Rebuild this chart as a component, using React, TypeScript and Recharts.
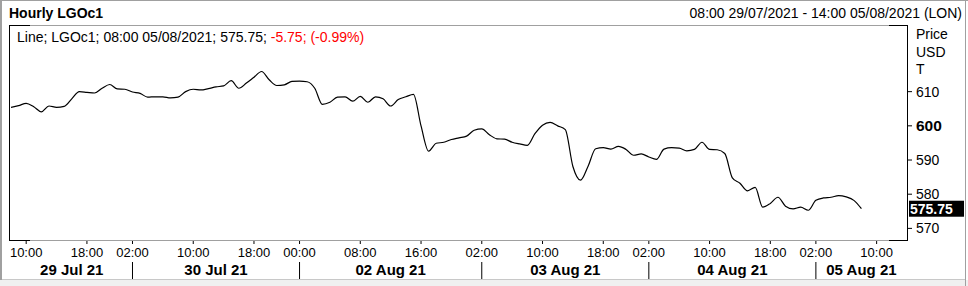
import React from 'react';
import { LineChart, Line, XAxis, YAxis } from 'recharts';

const prices: number[] = [
  605.4, 605.9, 606.6, 605.6, 604.1, 605.8, 605.4, 605.7, 607.9, 610.0,
  609.8, 609.6, 611.0, 612.1, 610.8, 610.7, 609.9, 609.5, 608.4, 608.5,
  608.5, 608.2, 608.4, 610.0, 610.7, 610.5, 610.9, 611.4, 611.7, 613.2,
  611.0, 612.5, 614.2, 615.9, 613.5, 611.8, 612.0, 613.0, 613.1, 612.9,
  611.0, 606.3, 606.9, 608.4, 608.5, 607.2, 608.6, 606.9, 608.5, 607.9,
  605.8, 607.7, 608.5, 609.2, 600.0, 592.6, 594.9, 595.2, 596.0, 596.5,
  597.0, 598.7, 599.1, 597.4, 596.2, 596.1, 595.2, 594.7, 594.3, 597.7,
  600.2, 601.0, 600.0, 598.9, 588.1, 584.1, 588.2, 593.3, 593.6, 593.2,
  594.0, 593.1, 591.4, 591.8, 590.9, 590.2, 593.2, 593.6, 593.5, 592.7,
  593.1, 595.2, 593.1, 593.0, 591.9, 584.8, 583.2, 581.0, 582.0, 576.2,
  577.3, 579.1, 576.5, 575.7, 576.2, 575.3, 578.2, 578.9, 579.1, 579.6,
  579.2, 578.2, 575.75,
];

const timeTicks: number[] = [2, 10, 16, 24, 32, 38, 46, 54, 62, 70, 78, 84, 92, 100, 106, 114];
const timeLabels: string[] = ['10:00', '18:00', '02:00', '10:00', '18:00', '00:00', '08:00', '16:00', '02:00', '10:00', '18:00', '02:00', '10:00', '18:00', '02:00', '10:00'];
const daySeparators: number[] = [16, 38, 62, 84, 106];
const dateCenters: number[] = [8, 27, 50, 73, 95, 112];
const dateLabels: string[] = ['29 Jul 21', '30 Jul 21', '02 Aug 21', '03 Aug 21', '04 Aug 21', '05 Aug 21'];
const priceTicks: number[] = [570, 575.75, 580, 590, 600, 610];
const boldTick = 600;
const lastPrice = 575.75;
const xDomain: [number, number] = [0, 118];
const yDomain: [number, number] = [566.6, 629.5];

const data = prices.map((p, i) => ({ t: i, price: p }));

const FONT = '"Liberation Sans", Arial, sans-serif';
const W = 968;
const H = 286;
const PLOT_TOP = 25;
const PLOT_BOTTOM = 240;
const PLOT_LEFT = 9;
const PLOT_RIGHT = 907;

const TimeTick = (props: any) => {
  const { x, payload } = props;
  const idx = timeTicks.indexOf(payload.value);
  const isSep = daySeparators.includes(payload.value);
  return (
    <g>
      <line x1={x} x2={x} y1={PLOT_BOTTOM + 1} y2={PLOT_BOTTOM + 4} stroke="#000" strokeWidth={1} />
      <text x={x} y={257} textAnchor="middle" fontSize={13} fontFamily={FONT} fill="#000">
        {timeLabels[idx]}
      </text>
      {isSep && <line x1={x} x2={x} y1={262} y2={279} stroke="#000" strokeWidth={1} />}
    </g>
  );
};

const DateTick = (props: any) => {
  const { x, payload } = props;
  const idx = dateCenters.indexOf(payload.value);
  return (
    <text x={x} y={274.5} textAnchor="middle" fontSize={15} fontWeight="bold" fontFamily={FONT} fill="#000">
      {dateLabels[idx]}
    </text>
  );
};

const PriceTick = (props: any) => {
  const { y, payload } = props;
  const v = payload.value;
  if (v === lastPrice) {
    return (
      <g>
        <rect x={909} y={y - 8} width={55} height={16} fill="#000" />
        <text x={910} y={y + 5} fontSize={14} fontWeight="bold" fontFamily={FONT} fill="#fff">
          {v.toFixed(2)}
        </text>
      </g>
    );
  }
  const bold = v === boldTick;
  return (
    <g>
      <line x1={PLOT_RIGHT} x2={PLOT_RIGHT + 5} y1={y} y2={y} stroke="#000" strokeWidth={1} />
      <text
        x={916}
        y={y}
        dy="0.36em"
        fontSize={bold ? 15.5 : 14}
        fontWeight={bold ? 'bold' : 'normal'}
        fontFamily={FONT}
        fill="#000"
      >
        {v}
      </text>
    </g>
  );
};

export default function App() {
  return (
    <div style={{ position: 'absolute', left: 0, top: 0, width: W, height: H, background: '#fff', overflow: 'hidden' }}>
      <LineChart
        width={W}
        height={H}
        data={data}
        margin={{ top: PLOT_TOP, right: 1, left: 11, bottom: 0 }}
      >
        <XAxis
          xAxisId="time"
          dataKey="t"
          type="number"
          domain={xDomain}
          allowDataOverflow
          ticks={timeTicks}
          interval={0}
          height={22}
          axisLine={false}
          tickLine={false}
          tick={<TimeTick />}
        />
        <XAxis
          xAxisId="date"
          dataKey="t"
          type="number"
          domain={xDomain}
          allowDataOverflow
          ticks={dateCenters}
          interval={0}
          height={24}
          axisLine={false}
          tickLine={false}
          tick={<DateTick />}
        />
        <YAxis
          orientation="right"
          type="number"
          domain={yDomain}
          allowDataOverflow
          ticks={priceTicks}
          interval={0}
          width={60}
          axisLine={false}
          tickLine={false}
          tick={<PriceTick />}
        />
        <Line
          xAxisId="time"
          type="monotone"
          dataKey="price"
          stroke="#000"
          strokeWidth={1.2}
          dot={false}
          activeDot={false}
          isAnimationActive={false}
        />
      </LineChart>
      <svg
        width={W}
        height={H}
        style={{ position: 'absolute', left: 0, top: 0, pointerEvents: 'none' }}
      >
        {/* outer frame */}
        <rect x={0} y={280} width={W} height={6} fill="#f0f0f0" />
        <line x1={1} x2={1} y1={0} y2={280} stroke="#a0a0a0" strokeWidth={2} />
        <line x1={965.5} x2={965.5} y1={0} y2={286} stroke="#a0a0a0" strokeWidth={1} />
        <line x1={0} x2={W} y1={0.5} y2={0.5} stroke="#a0a0a0" strokeWidth={1} />
        <line x1={2} x2={965} y1={279.5} y2={279.5} stroke="#c8c8c8" strokeWidth={1} />
        {/* plot box */}
        <line x1={PLOT_LEFT + 0.5} x2={PLOT_LEFT + 0.5} y1={PLOT_TOP} y2={PLOT_BOTTOM + 1} stroke="#000" />
        <line x1={PLOT_RIGHT + 0.5} x2={PLOT_RIGHT + 0.5} y1={PLOT_TOP} y2={PLOT_BOTTOM + 1} stroke="#000" />
        <line x1={PLOT_LEFT} x2={PLOT_RIGHT} y1={PLOT_TOP + 0.5} y2={PLOT_TOP + 0.5} stroke="#a0a0a0" />
        <line x1={PLOT_LEFT} x2={PLOT_RIGHT} y1={PLOT_BOTTOM + 0.5} y2={PLOT_BOTTOM + 0.5} stroke="#a0a0a0" />
        <line x1={PLOT_LEFT} x2={PLOT_LEFT + 21} y1={PLOT_TOP + 0.5} y2={PLOT_TOP + 0.5} stroke="#000" />
        <line x1={PLOT_RIGHT - 18} x2={PLOT_RIGHT + 1} y1={PLOT_TOP + 0.5} y2={PLOT_TOP + 0.5} stroke="#000" />
        <line x1={PLOT_LEFT} x2={PLOT_LEFT + 21} y1={PLOT_BOTTOM + 0.5} y2={PLOT_BOTTOM + 0.5} stroke="#000" />
        <line x1={PLOT_RIGHT - 18} x2={PLOT_RIGHT + 1} y1={PLOT_BOTTOM + 0.5} y2={PLOT_BOTTOM + 0.5} stroke="#000" />
        {/* header */}
        <text x={9} y={18} fontSize={14} fontWeight="bold" fontFamily={FONT} fill="#000">Hourly LGOc1</text>
        <text x={962} y={18} fontSize={14} textAnchor="end" fontFamily={FONT} fill="#000">
          08:00 29/07/2021 - 14:00 05/08/2021 (LON)
        </text>
        {/* legend */}
        <text x={17} y={42} fontSize={14} fontFamily={FONT} fill="#000">
          <tspan>Line; LGOc1; 08:00 05/08/2021; 575.75; </tspan>
          <tspan fill="#ff0000">-5.75; (-0.99%)</tspan>
        </text>
        {/* axis unit labels */}
        <text x={916} y={39} fontSize={14} fontFamily={FONT} fill="#000">Price</text>
        <text x={916} y={57} fontSize={14} fontFamily={FONT} fill="#000">USD</text>
        <text x={916} y={74} fontSize={14} fontFamily={FONT} fill="#000">T</text>
      </svg>
    </div>
  );
}
